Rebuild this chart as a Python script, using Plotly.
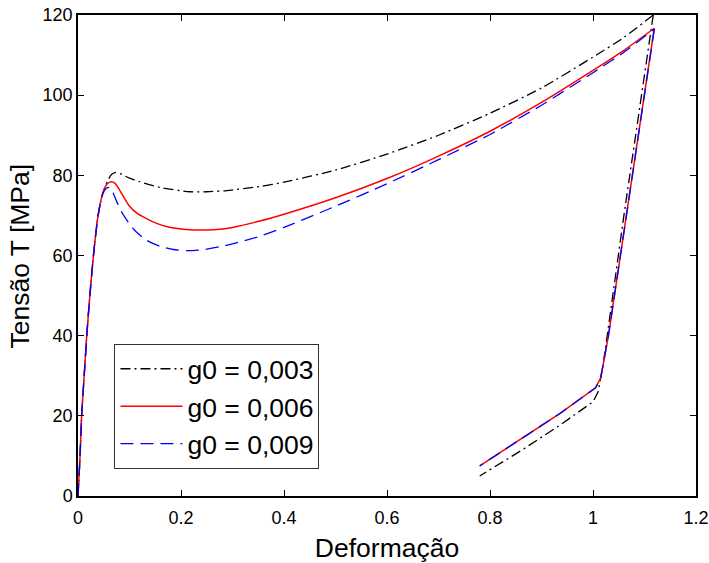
import plotly.graph_objects as go

# g0 = 0,003 (black, dash-dot) — loading branch
x_003_load = [0, 0.004, 0.007, 0.012, 0.017, 0.023, 0.030, 0.039, 0.048, 0.057, 0.065, 0.072, 0.082, 0.10, 0.12, 0.159, 0.217, 0.25, 0.289, 0.353,
              0.4, 0.5, 0.6, 0.7, 0.8, 0.9, 1.0, 1.06, 1.117]
y_003_load = [0, 10, 20, 30, 40, 50, 60, 70, 75.5, 78.5, 80.2, 80.7, 80.4, 79.3, 78.4, 77.0, 75.9, 75.9, 76.2, 77.2,
              78.3, 81.3, 85.3, 90.0, 95.5, 101.8, 109.5, 114.4, 120.0]
# unloading branch
x_003_unload = [1.117, 1.06, 1.02, 1.01, 1.0, 0.936, 0.86, 0.78]
y_003_unload = [120.0, 70.0, 33.0, 26.0, 23.5, 17.7, 11.3, 5.0]

# g0 = 0,006 (red, solid)
x_006_load = [0, 0.004, 0.007, 0.012, 0.017, 0.023, 0.030, 0.039, 0.048, 0.056, 0.065, 0.072, 0.08, 0.09, 0.10, 0.115, 0.133, 0.155, 0.18, 0.21, 0.237, 0.27, 0.3, 0.353,
              0.4, 0.5, 0.6, 0.7, 0.8, 0.9, 1.0, 1.06, 1.119]
y_006_load = [0, 10, 20, 30, 40, 50, 60, 70, 75.5, 77.8, 78.4, 78.0, 76.5, 74.3, 72.3, 70.5, 69.2, 67.9, 67.0, 66.5, 66.35, 66.5, 67.0, 68.6,
              70.3, 74.4, 79.2, 84.8, 91.0, 98.2, 106.2, 111.2, 116.7]
x_006_unload = [1.119, 1.07, 1.03, 1.015, 1.005, 0.936, 0.86, 0.78]
y_006_unload = [116.7, 75.0, 40.0, 29.5, 27.0, 20.6, 14.2, 7.5]

# g0 = 0,009 (blue, dashed)
x_009_load = [0, 0.004, 0.007, 0.012, 0.017, 0.023, 0.030, 0.039, 0.048, 0.055, 0.061, 0.066, 0.075, 0.085, 0.0945, 0.11, 0.133, 0.159, 0.185, 0.211, 0.24, 0.276, 0.3, 0.353,
              0.4, 0.5, 0.6, 0.7, 0.8, 0.9, 1.0, 1.06, 1.119]
y_009_load = [0, 10, 20, 30, 40, 50, 60, 70, 75.3, 76.8, 77.0, 76.2, 73.5, 70.8, 68.9, 66.3, 63.8, 62.3, 61.5, 61.2, 61.4, 62.2, 62.9, 64.8,
              67.0, 72.3, 77.9, 83.9, 90.2, 97.5, 105.6, 110.7, 116.5]
x_009_unload = [1.119, 1.07, 1.03, 1.015, 1.005, 0.936, 0.86, 0.78]
y_009_unload = [116.5, 75.0, 40.0, 29.5, 27.0, 20.6, 14.2, 7.5]

series_names = ["g0 = 0,003", "g0 = 0,006", "g0 = 0,009"]

x_ticks = [0, 0.2, 0.4, 0.6, 0.8, 1, 1.2]
x_tick_labels = ["0", "0.2", "0.4", "0.6", "0.8", "1", "1.2"]
y_ticks = [0, 20, 40, 60, 80, 100, 120]

FONT = "Liberation Sans, Arial, sans-serif"

styles = [
    dict(color="black", width=1.3, dash="10px,4px,2px,4px"),
    dict(color="#ff0000", width=1.5),
    dict(color="#0000ff", width=1.3, dash="13px,7px"),
]
loads = [(x_003_load, y_003_load), (x_006_load, y_006_load), (x_009_load, y_009_load)]
unloads = [(x_003_unload, y_003_unload), (x_006_unload, y_006_unload), (x_009_unload, y_009_unload)]

fig = go.Figure()
for i in range(3):
    fig.add_trace(go.Scatter(x=loads[i][0], y=loads[i][1], mode="lines", name=series_names[i],
                             legendgroup=f"g{i}", line=dict(shape="spline", smoothing=0.6, **styles[i])))
    fig.add_trace(go.Scatter(x=unloads[i][0], y=unloads[i][1], mode="lines", name=series_names[i],
                             legendgroup=f"g{i}", showlegend=False, line=dict(**styles[i])))

axis_common = dict(showgrid=False, zeroline=False, showline=True, linecolor="black", linewidth=1.5,
                   mirror="ticks", ticks="inside", ticklen=6, tickwidth=1.2, tickcolor="black",
                   automargin=False, ticklabeloverflow="allow",
                   tickfont=dict(family=FONT, size=18, color="black"))

fig.update_layout(
    width=709, height=563,
    margin=dict(l=78, r=13, t=15, b=67),
    paper_bgcolor="white", plot_bgcolor="white",
    xaxis=dict(range=[0, 1.2], tickvals=x_ticks, ticktext=x_tick_labels, ticklabelstandoff=5,
               title=dict(text="Deformação", font=dict(family=FONT, size=26.5, color="black"), standoff=11),
               **axis_common),
    yaxis=dict(range=[0, 120], tickvals=y_ticks, **axis_common),
    annotations=[dict(text="Tensão T [MPa]", textangle=-90, showarrow=False,
                      xref="paper", yref="paper", x=-0.0939, y=0.5, xanchor="center", yanchor="middle",
                      font=dict(family=FONT, size=26.5, color="black"))],
    legend=dict(x=0.059, y=0.316, xanchor="left", yanchor="top",
                bgcolor="white", bordercolor="#333333", borderwidth=1,
                font=dict(family=FONT, size=26.5, color="black"),
                itemwidth=62, tracegroupgap=0),
    showlegend=True,
)

fig.write_html("out.html", config={"displayModeBar": False},
               post_script="document.body.style.margin='0px';")
